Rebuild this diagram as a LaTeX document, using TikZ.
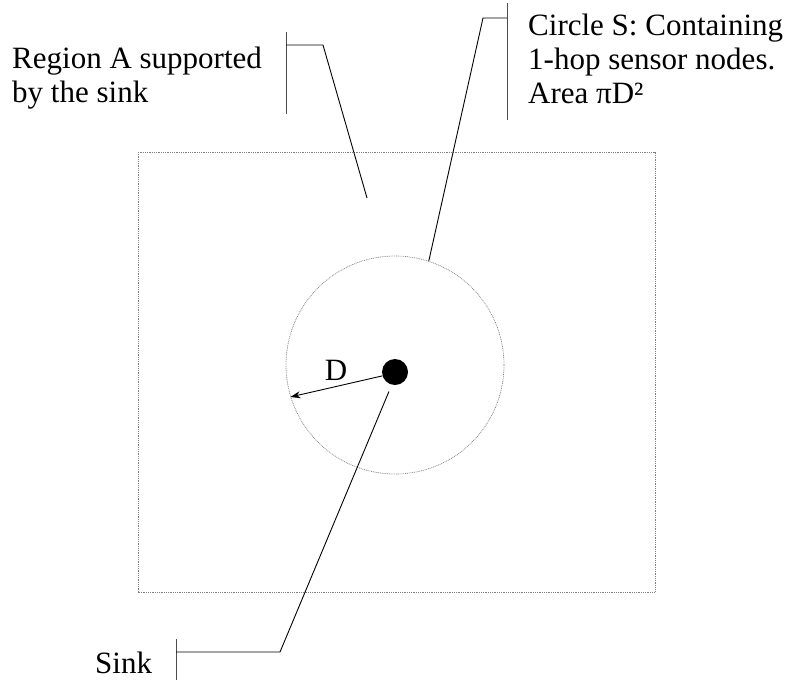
\documentclass[tikz,border=0pt]{standalone}
\usepackage{fontspec}
\setmainfont{Liberation Serif}
\usetikzlibrary{arrows.meta,positioning}

\begin{document}
\begin{tikzpicture}[x=1pt,y=-1pt,
  lbl/.style={anchor=base west,inner sep=0pt,align=left,font=\fontsize{31}{34}\selectfont},
  dots/.style={gray,line width=.7pt,dash pattern=on .9pt off .9pt},
  bar/.style={gray!60!black,line width=.9pt},
  lead/.style={line width=.9pt}]
\useasboundingbox (0,0) rectangle (786,686);
% area and 1-hop circle
\draw[dots] (138,152) rectangle (655,592);
\node[draw,dots,circle,minimum size=218pt,inner sep=0pt] (S) at (395,365) {};
\node[circle,fill,minimum size=26pt,inner sep=0pt] (sink) at (395,372) {};
\draw[lead,-{Stealth[length=10pt,width=7pt]}] (sink.197) -- (S.197.5);
\node[font=\fontsize{31}{34}\selectfont,inner sep=0pt] (lD) at (336,370) {D};
% callouts (anchored on last baseline)
\node[lbl] (tA) at (12,102) {Region A supported\\by the sink};
\node[lbl] (tS) at (528,103) {Circle S: Containing\\1-hop sensor nodes.\\Area πD²};
\node[lbl] (tK) at (95,673) {Sink};
\coordinate (kA) at (286,45);
\coordinate (kS) at (507,18);
\coordinate (kK) at (176,652);
\coordinate (rA) at (367,198);
\draw[bar] ([yshift=13pt]kA) -- ([yshift=-69pt]kA);
\draw[bar] ([yshift=15pt]kS) -- ([yshift=-102pt]kS);
\draw[bar] ([yshift=13pt]kK) -- ([yshift=-28pt]kK);
\draw[lead] (kA) -- (323,45) -- (rA);
\draw[lead] (kS) -- (483,18) -- (S.72);
\draw[lead] (kK) -- (280,652) -- ([shift={(-2pt,-7pt)}]sink.252);
\end{tikzpicture}
\end{document}
